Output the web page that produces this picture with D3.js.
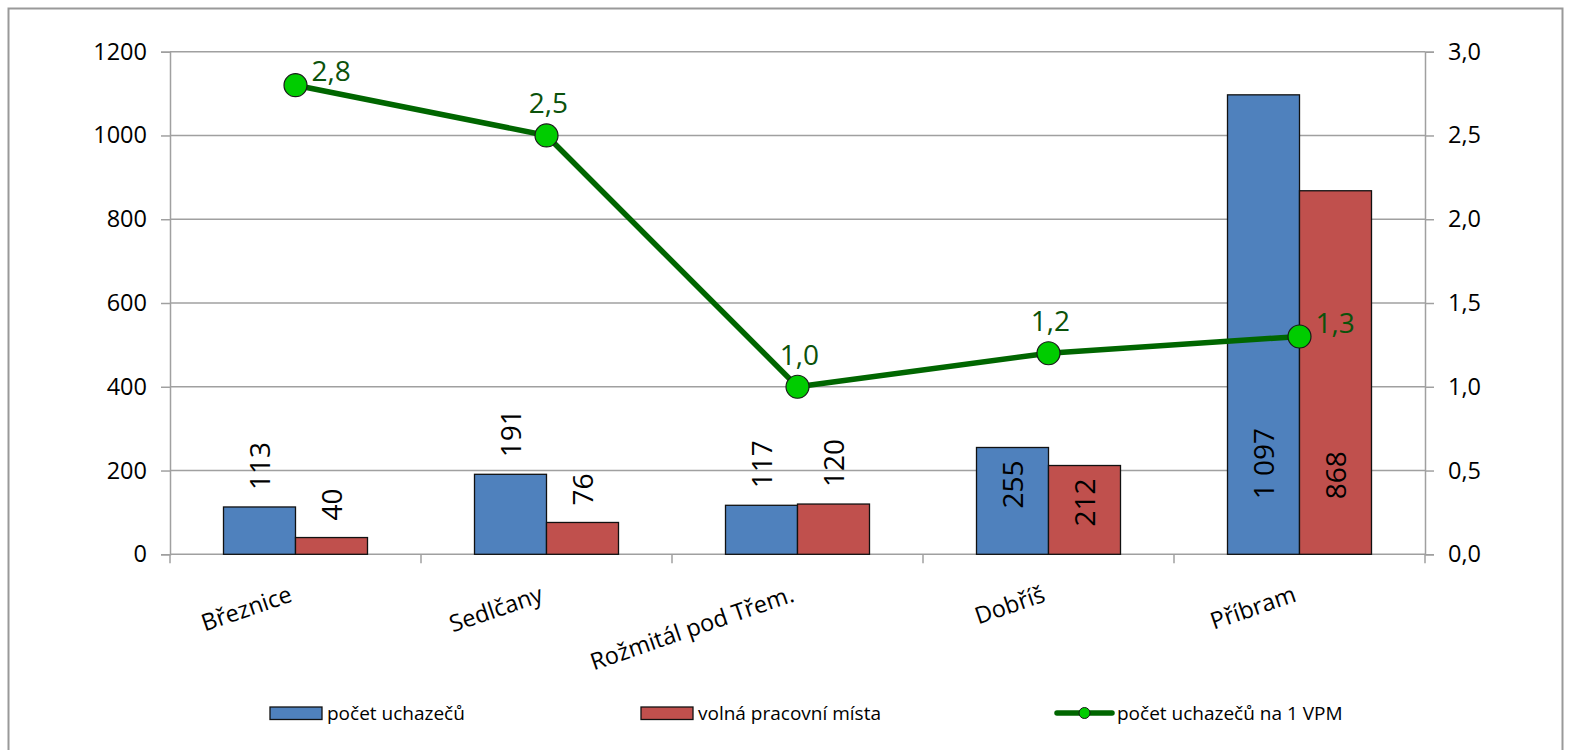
<!DOCTYPE html>
<html>
<head>
<meta charset="utf-8">
<script src="https://cdn.jsdelivr.net/npm/d3@7"></script>
<style>
  body { margin: 0; background: #fff; }
  svg { display: block; font-family: "Open Sans", sans-serif; }
</style>
</head>
<body>
<svg id="chart" width="1569" height="750"></svg>
<script>
// data
var categories = ["Březnice", "Sedlčany", "Rožmitál pod Třem.", "Dobříš", "Příbram"];
var uchazeci = [113, 191, 117, 255, 1097];
var volnaMista = [40, 76, 120, 212, 868];
var naVPM = [2.8, 2.5, 1.0, 1.2, 1.3];
var leftTicks = [0, 200, 400, 600, 800, 1000, 1200];
var rightTicks = [0, 0.5, 1.0, 1.5, 2.0, 2.5, 3.0];
var seriesNames = ["počet uchazečů", "volná pracovní místa", "počet uchazečů na 1 VPM"];
// where the line labels go
var lineLabelPos = ["right", "above", "above", "above", "right"];

(function() {
  var svg = d3.select("#chart"),
      pLeft = 170, pRight = 1425, pTop = 51.7, pBottom = 554.3,
      blue = "#4f81bd", red = "#c0504d", green = "#006600",
      grid = "#a0a0a0";

  // outer frame
  svg.append("rect")
    .attr("x", 8.5).attr("y", 8.5).attr("width", 1554).attr("height", 760)
    .attr("fill", "none").attr("stroke", "#999").attr("stroke-width", 2);

  var x = d3.scaleBand().domain(categories).range([pLeft, pRight]);
  var y = d3.scaleLinear().domain([0, 1200]).range([pBottom, pTop]);
  var y2 = d3.scaleLinear().domain([0, 3]).range([pBottom, pTop]);
  var fmt = function(v) { return d3.format(".1f")(v).replace(".", ","); };
  var fmtThousands = function(v) { return d3.format(",")(v).replace(/,/g, " "); };

  // gridlines
  svg.append("g").selectAll("line").data(leftTicks.slice(1)).enter().append("line")
    .attr("x1", pLeft).attr("x2", pRight)
    .attr("y1", function(d) { return y(d); }).attr("y2", function(d) { return y(d); })
    .attr("stroke", grid).attr("stroke-width", 1.5);

  // left / right axes
  var gl = svg.append("g").attr("transform", "translate(" + pLeft + ",0)")
    .call(d3.axisLeft(y).tickValues(leftTicks).tickSize(9).tickPadding(14).tickFormat(d3.format("d")));
  var gr = svg.append("g").attr("transform", "translate(" + pRight + ",0)")
    .call(d3.axisRight(y2).tickValues(rightTicks).tickSize(9).tickPadding(14).tickFormat(fmt));
  [gl, gr].forEach(function(g) {
    g.select(".domain").attr("stroke", grid).attr("stroke-width", 1.5);
    g.selectAll(".tick line").attr("stroke", grid).attr("stroke-width", 1.5);
    g.selectAll(".tick text").attr("font-size", 23.5).attr("fill", "#000")
      .attr("font-family", "Open Sans, sans-serif");
  });

  // bottom axis, ticks between categories
  var bounds = categories.map(function(c) { return x(c); }).concat([pRight]);
  svg.append("line").attr("x1", pLeft).attr("x2", pRight).attr("y1", pBottom).attr("y2", pBottom)
    .attr("stroke", grid).attr("stroke-width", 1.5);
  svg.append("g").selectAll("line").data(bounds).enter().append("line")
    .attr("x1", function(d) { return d; }).attr("x2", function(d) { return d; })
    .attr("y1", pBottom).attr("y2", pBottom + 9)
    .attr("stroke", grid).attr("stroke-width", 1.5);

  svg.append("g").selectAll("text").data(categories).enter().append("text")
    .attr("transform", function(d) {
      return "translate(" + (x(d) + x.bandwidth() / 2 - 2) + "," + 601 + ") rotate(-19)";
    })
    .attr("text-anchor", "end").attr("font-size", 23.5).attr("fill", "#000")
    .text(function(d) { return d; });

  // bars
  var barW = 72;
  var x1 = d3.scaleBand().domain([0, 1]).range([0, barW * 2]);
  var series = [uchazeci, volnaMista];
  var colors = [blue, red];
  var barData = [];
  series.forEach(function(vals, s) {
    vals.forEach(function(v, i) {
      barData.push({ s: s, i: i, v: v,
        x: x(categories[i]) + x.bandwidth() / 2 - barW + x1(s) });
    });
  });

  svg.append("g").selectAll("rect").data(barData).enter().append("rect")
    .attr("x", function(d) { return d.x; })
    .attr("y", function(d) { return y(d.v); })
    .attr("width", barW)
    .attr("height", function(d) { return pBottom - y(d.v); })
    .attr("fill", function(d) { return colors[d.s]; })
    .attr("stroke", "#111").attr("stroke-width", 1.3);

  // bar labels (rotated)
  svg.append("g").selectAll("text").data(barData).enter().append("text")
    .attr("transform", function(d) {
      var h = pBottom - y(d.v), ly;
      if (h < 85) ly = y(d.v) - 17;          // outside end
      else if (h < 300) ly = y(d.v) + 13;    // inside, from top
      else ly = pBottom - 55;                // inside, near base
      return "translate(" + (d.x + barW / 2 + 10) + "," + ly + ") rotate(-90)";
    })
    .attr("text-anchor", function(d) {
      var h = pBottom - y(d.v);
      return (h >= 85 && h < 300) ? "end" : "start";
    })
    .attr("font-size", 28).attr("fill", "#000")
    .text(function(d) { return fmtThousands(d.v); });

  // line
  var cx = function(i) { return x(categories[i]) + x.bandwidth() / 2; };
  var line = d3.line().x(function(d, i) { return cx(i); }).y(function(d) { return y2(d); });
  svg.append("path").datum(naVPM).attr("d", line)
    .attr("fill", "none").attr("stroke", green).attr("stroke-width", 5.5)
    .attr("stroke-linejoin", "round");
  svg.append("g").selectAll("circle").data(naVPM).enter().append("circle")
    .attr("cx", function(d, i) { return cx(i); })
    .attr("cy", function(d) { return y2(d); })
    .attr("r", 11.5).attr("fill", "#00cc00").attr("stroke", "#1a1a1a").attr("stroke-width", 1.2);

  svg.append("g").selectAll("text").data(naVPM).enter().append("text")
    .attr("x", function(d, i) { return lineLabelPos[i] === "right" ? cx(i) + 16 : cx(i) + 2; })
    .attr("y", function(d, i) { return lineLabelPos[i] === "right" ? y2(d) - 4 : y2(d) - 22; })
    .attr("text-anchor", function(d, i) { return lineLabelPos[i] === "right" ? "start" : "middle"; })
    .attr("font-size", 28).attr("fill", "#0b520b")
    .text(function(d) { return fmt(d); });

  // legend
  var leg = svg.append("g").attr("font-size", 19);
  [[270, 0], [641, 1]].forEach(function(p) {
    leg.append("rect").attr("x", p[0]).attr("y", 707).attr("width", 52).attr("height", 12.5)
      .attr("fill", colors[p[1]]).attr("stroke", "#111").attr("stroke-width", 1.3);
    leg.append("text").attr("x", p[0] + 57).attr("y", 720).attr("fill", "#000")
      .text(seriesNames[p[1]]);
  });
  leg.append("line").attr("x1", 1057).attr("x2", 1112).attr("y1", 713).attr("y2", 713)
    .attr("stroke", green).attr("stroke-width", 5.5).attr("stroke-linecap", "round");
  leg.append("circle").attr("cx", 1084.5).attr("cy", 713).attr("r", 5.5)
    .attr("fill", "#00cc00").attr("stroke", "#1a1a1a").attr("stroke-width", 1);
  leg.append("text").attr("x", 1117).attr("y", 720).attr("fill", "#000").text(seriesNames[2]);
})();
</script>
</body>
</html>
